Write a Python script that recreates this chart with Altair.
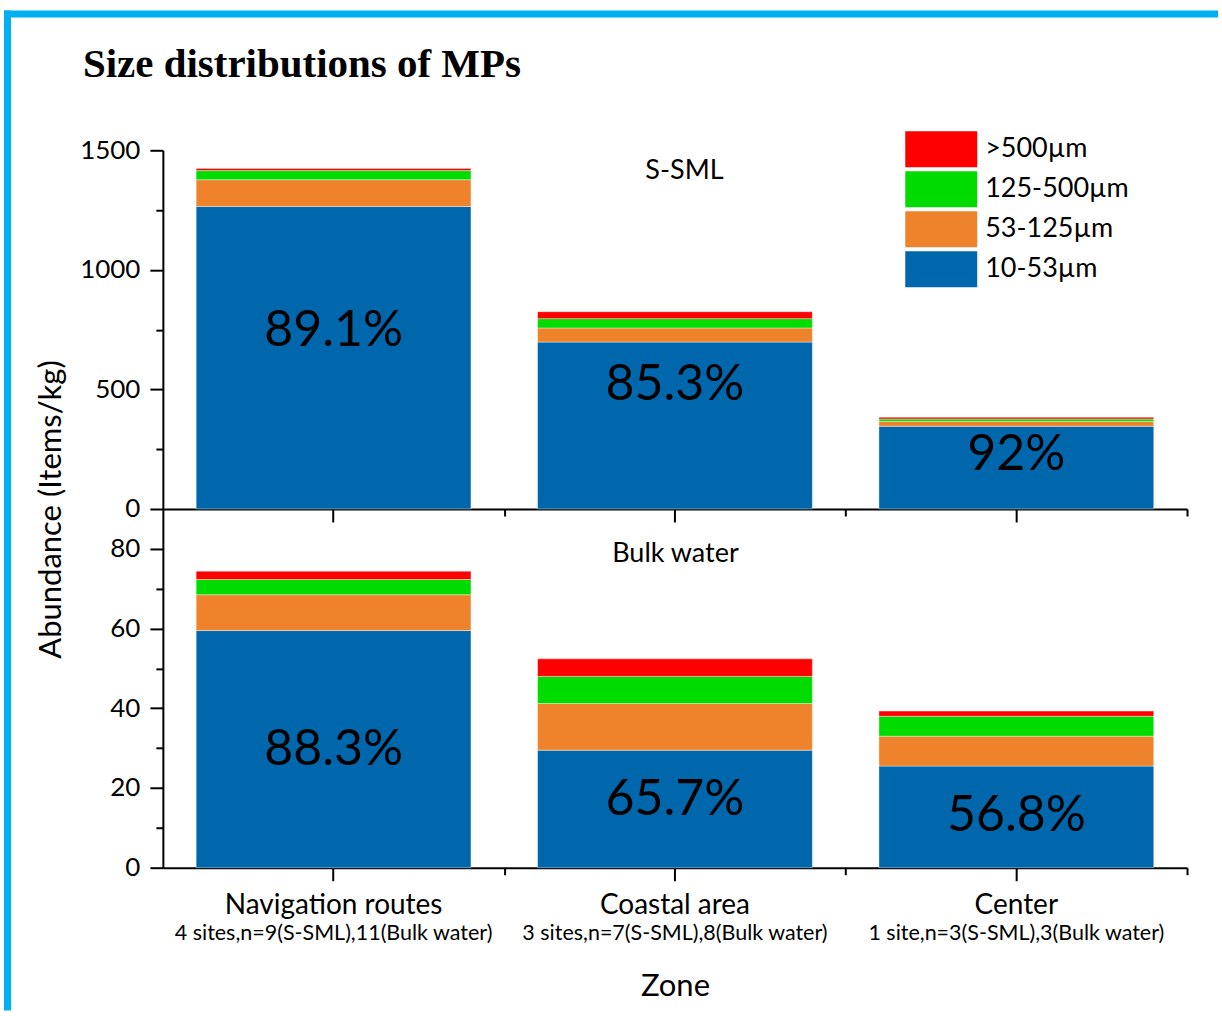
import altair as alt
import pandas as pd

# ---- data -------------------------------------------------------------
zones = ["Navigation routes", "Coastal area", "Center"]
zone_notes = [
    "4 sites,n=9(S-SML),11(Bulk water)",
    "3 sites,n=7(S-SML),8(Bulk water)",
    "1 site,n=3(S-SML),3(Bulk water)",
]
panels = ["S-SML", "Bulk water"]
size_classes = ["10-53µm", "53-125µm", "125-500µm", ">500µm"]
size_colors = ["#0067AC", "#EF832B", "#00DC00", "#FF0000"]

# S-SML abundance (items/kg) by size class
sml_10_53 = [1265, 698, 346]
sml_53_125 = [112, 59, 20]
sml_125_500 = [38, 39, 10]
sml_500 = [9, 29, 8]
sml_share = ["89.1%", "85.3%", "92%"]
sml_share_at = [745, 520, 225]

# Bulk water abundance (items/kg) by size class
bulk_10_53 = [59.5, 29.5, 25.5]
bulk_53_125 = [9.0, 11.7, 7.5]
bulk_125_500 = [3.8, 6.8, 5.0]
bulk_500 = [2.1, 4.4, 1.3]
bulk_share = ["88.3%", "65.7%", "56.8%"]
bulk_share_at = [29.6, 17.1, 13.0]

# ---- styling ----------------------------------------------------------
FONT = "Lato"
W, H = 1025, 359
FRAME = "#00B0F0"
STEP = W / len(zones)


def long_table(columns):
    rows = []
    for rank, (cls, vals) in enumerate(zip(size_classes, columns)):
        for zone, v in zip(zones, vals):
            rows.append({"zone": zone, "size": cls, "rank": rank, "abundance": v})
    return pd.DataFrame(rows)


def x_scale():
    return alt.Scale(domain=zones, paddingInner=0.195, paddingOuter=0.0975)


def y_axis(values, major, title=None, **extra):
    kw = dict(
        values=values,
        format="d",
        labelExpr=f"datum.value % {major} === 0 ? datum.label : ''",
        tickSize={"condition": {"test": f"datum.value % {major} === 0", "value": 13}, "value": 7},
        labelFontSize=26,
        labelPadding=10,
        grid=False,
    )
    if title:
        kw.update(title=title, **extra)
    else:
        kw.update(title="")
    return alt.Axis(**kw)


minor_x_axis = alt.Axis(
    orient="bottom", labels=False, domain=False, tickSize=7, tickOffset=STEP / 2,
    title="", grid=False,
)


def panel(columns, shares, share_at, ymax, yvalues, major, panel_name, name_y,
          name_x, y_title=None, bottom=False, legend=None):
    df = long_table(columns)
    yscale = alt.Scale(domain=[0, ymax], nice=False, zero=True)

    if bottom:
        x_axis = alt.Axis(
            orient="bottom", labelAngle=0, labelFontSize=28, labelPadding=11, labelLimit=600,
            tickSize=13, title="Zone", titleFontSize=31, titleY=119, titleX=W / 2,
            titleBaseline="middle", grid=False,
        )
    else:
        x_axis = alt.Axis(orient="bottom", labels=False, tickSize=13, title="", grid=False)

    if y_title:
        yax = y_axis(yvalues, major, y_title, titleFontSize=31, titleX=-111, titleY=H,
                     titleAlign="center", titleBaseline="middle", titleAngle=270)
    else:
        yax = y_axis(yvalues, major)

    color_kw = dict(scale=alt.Scale(domain=size_classes[::-1], range=size_colors[::-1]))
    if legend is None:
        color = alt.Color("size:N", legend=None, **color_kw)
    else:
        color = alt.Color("size:N", legend=legend, **color_kw)

    bars = alt.Chart(df).mark_bar(stroke="#ffffff", strokeWidth=0.4).encode(
        x=alt.X("zone:N", scale=x_scale(), axis=x_axis),
        y=alt.Y("abundance:Q", stack="zero", scale=yscale, axis=yax),
        color=color,
        order=alt.Order("rank:Q", sort="ascending"),
    )

    share_df = pd.DataFrame({"zone": zones, "share": shares, "at": share_at})
    share_text = alt.Chart(share_df).mark_text(
        font=FONT, fontSize=50, color="black", baseline="middle"
    ).encode(
        x=alt.X("zone:N", scale=x_scale(), axis=minor_x_axis),
        y=alt.Y("at:Q", scale=yscale, axis=None),
        text="share:N",
    )

    name = alt.Chart(pd.DataFrame({"name": [panel_name]})).mark_text(
        font=FONT, fontSize=27, color="black", baseline="middle", align="center"
    ).encode(x=alt.value(name_x), y=alt.value(name_y), text="name:N")

    layers = [bars, share_text, name]

    if bottom:
        notes = alt.Chart(pd.DataFrame({"zone": zones, "note": zone_notes})).mark_text(
            font=FONT, fontSize=21.5, color="black", baseline="middle"
        ).encode(
            x=alt.X("zone:N", scale=x_scale(), axis=None),
            y=alt.value(H + 66),
            text="note:N",
        )
        layers.append(notes)

    return alt.layer(*layers).properties(width=W, height=H).resolve_axis(
        x="independent", y="independent"
    )


# wide legend swatches: a 2:1 rectangle path drawn at a 36 px unit
legend = alt.Legend(
    title=None, orient="none", legendX=761, legendY=-19,
    symbolType="M-2,-1H2V1H-2Z", symbolSize=1296, symbolStrokeWidth=0,
    symbolOpacity=1, labelFont=FONT, labelFontSize=27, labelColor="black",
    labelOffset=26, rowPadding=4, padding=0,
)

top = panel(
    [sml_10_53, sml_53_125, sml_125_500, sml_500], sml_share, sml_share_at,
    1500, list(range(0, 1501, 250)), 500, panels[0], 21, 522,
    y_title="Abundance (Items/kg)", legend=legend,
)

# heading and blue frame drawn with the top panel
heading = alt.Chart(pd.DataFrame({"t": ["Size distributions of MPs"]})).mark_text(
    font="Liberation Serif", fontSize=41, fontWeight="bold", color="black",
    align="left", baseline="alphabetic",
).encode(x=alt.value(-80), y=alt.value(-73), text="t:N")

frame_top = alt.Chart(pd.DataFrame({"k": [0]})).mark_rule(
    color=FRAME, strokeWidth=7
).encode(x=alt.value(-159), x2=alt.value(1056), y=alt.value(-136.5))
frame_left = alt.Chart(pd.DataFrame({"k": [0]})).mark_rule(
    color=FRAME, strokeWidth=7
).encode(x=alt.value(-155.5), y=alt.value(-140), y2=alt.value(861))

top = alt.layer(top, heading, frame_top, frame_left)

bottom = panel(
    [bulk_10_53, bulk_53_125, bulk_125_500, bulk_500], bulk_share, bulk_share_at,
    90, list(range(0, 81, 10)), 20, panels[1], 45, 513, bottom=True,
)

chart = (
    alt.vconcat(top, bottom, spacing=0, bounds="flush")
    .resolve_legend(color="independent")
    .properties(padding={"left": 0, "top": 6, "right": 0, "bottom": 0}, background="white")
    .configure_view(strokeWidth=0)
    .configure_axis(
        labelFont=FONT, titleFont=FONT, labelColor="black", titleColor="black",
        domainColor="black", tickColor="black", domainWidth=2, tickWidth=2,
        titleFontWeight="normal",
    )
)

chart.save("out.html", embed_options={"renderer": "svg", "actions": False})
